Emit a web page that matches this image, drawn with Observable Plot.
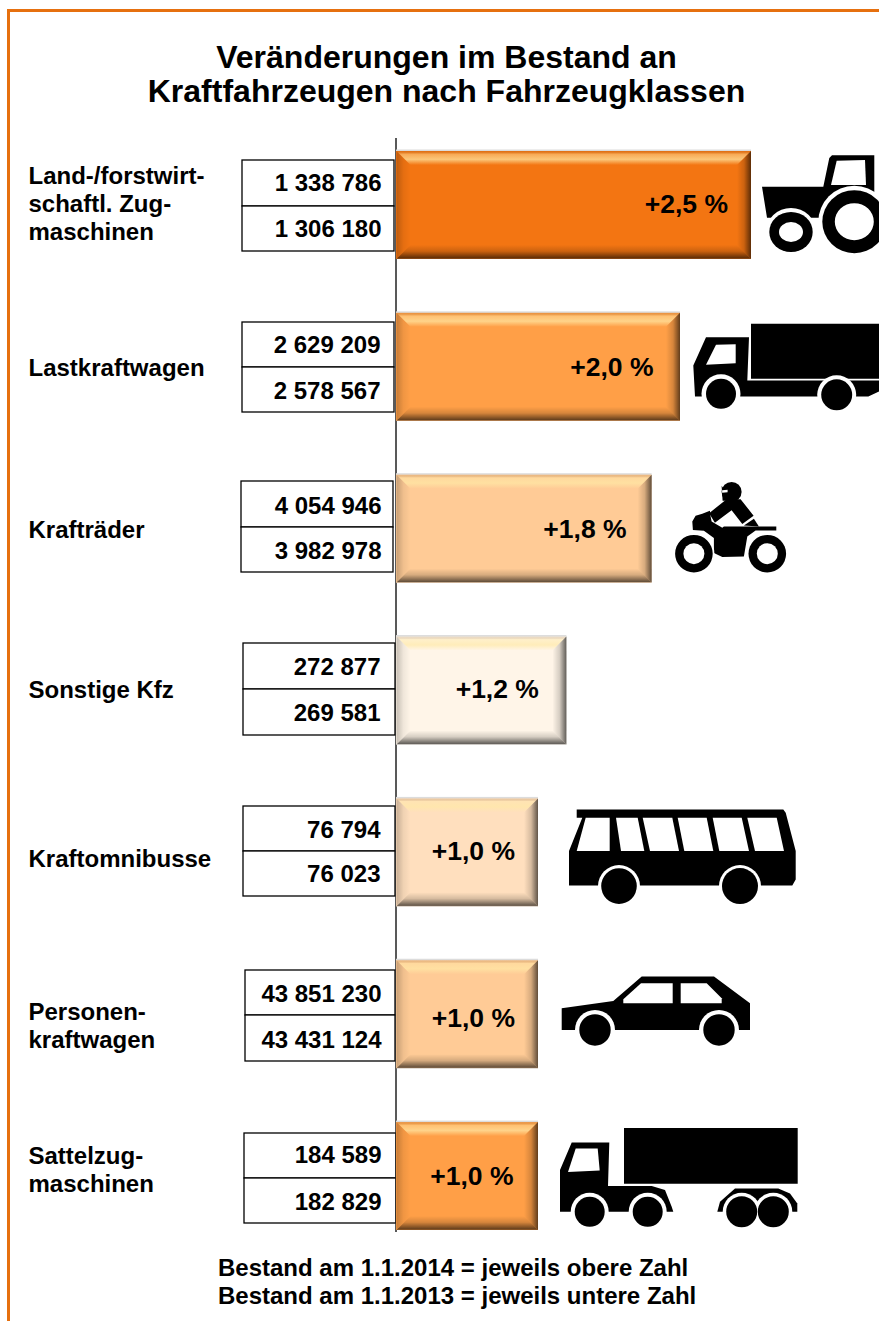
<!DOCTYPE html>
<html lang="de">
<head>
<meta charset="utf-8">
<script src="https://cdn.jsdelivr.net/npm/d3@7"></script>
<script src="https://cdn.jsdelivr.net/npm/@observablehq/plot@0.6"></script>
<style>
  html, body { margin: 0; padding: 0; background: #fff; }
  body { width: 879px; height: 1321px; position: relative; overflow: hidden; font-family: "Liberation Sans", Arial, sans-serif; font-weight: bold; color: #000; }
  #frame { position: absolute; left: 7px; top: 9px; right: 0; bottom: 0; border-top: 3px solid #E6700F; border-left: 3px solid #E6700F; }
  #title { position: absolute; left: 0; width: 893px; top: 40px; text-align: center; font-size: 32px; line-height: 34px; margin: 0; font-weight: bold; }
  #chart { position: absolute; left: 0; top: 135px; }
  #chart svg { display: block; }
  #note { position: absolute; left: 218px; top: 1254px; font-size: 24px; line-height: 28px; white-space: nowrap; }
</style>
</head>
<body>
<div id="frame"></div>
<h1 id="title">Veränderungen im Bestand an<br>Kraftfahrzeugen nach Fahrzeugklassen</h1>
<div id="chart"></div>
<div id="note">Bestand am 1.1.2014 = jeweils obere Zahl<br>Bestand am 1.1.2013 = jeweils untere Zahl</div>
<script>
// ---------- data ----------
const categories = ["Land-/forstwirt-\nschaftl. Zug-\nmaschinen", "Lastkraftwagen", "Krafträder", "Sonstige Kfz", "Kraftomnibusse", "Personen-\nkraftwagen", "Sattelzug-\nmaschinen"];
const stock2014 = [1338786, 2629209, 4054946, 272877, 76794, 43851230, 184589];
const stock2013 = [1306180, 2578567, 3982978, 269581, 76023, 43431124, 182829];
const changePct = [2.5, 2.0, 1.8, 1.2, 1.0, 1.0, 1.0];

// ---------- styles ----------
const barColors = ["#F37512", "#FF9F47", "#FFCB96", "#FFF5E8", "#FFDFBE", "#FFCB96", "#FF9F47"];

// ---------- layout (reference page pixels) ----------
const svgTop = 135, svgH = 1100, pxPerUnit = 142, zeroPx = 396;
const bandRange = [16, 1095], pInner = 1 / 3;
const step = (bandRange[1] - bandRange[0]) / (categories.length - pInner);
const bw = step * (1 - pInner);
const bandTop = i => bandRange[0] + i * step;              // svg px
const toX = px => (px - zeroPx) / pxPerUnit;               // page px -> x value
const tableX   = [[242,394],[242,394],[241,393],[243,395],[243,395],[245,395],[244,396]];
const tableY   = [[160,206,251],[322,367,412],[481,527,572],[643,689,735],[806,851,896],[970,1015,1061],[1133,1178,1223]];
const numY     = [[183,229],[345,391],[506,551],[667,713],[830,874],[994,1040],[1155,1202]];
const numRight = [381,380,381,380,380,381,381];
const catY     = [203,367,529,689,858,1025,1169];
const pctY     = [204,367,529,689,851,1018,1176];
const pctGap   = [23.5,27,25.5,28,23.5,23.5,25];

const locale = d3.formatLocale({decimal: ",", thousands: " ", grouping: [3], currency: ["", ""]});
const fmtN = locale.format(",d"), fmtP = locale.format("+.1f");

const rows = categories.map((cat, i) => ({cat, i, a: stock2014[i], b: stock2013[i], pct: changePct[i], color: barColors[i]}));
const dyOf = (pageY, i) => pageY - svgTop - (bandTop(i) + bw / 2);
const font = {fontFamily: "Liberation Sans, Arial, sans-serif", fontWeight: "bold", fill: "#000"};

// ---------- pictograms (shapes, anchored to the end of their bar) ----------
const circ = (cx, cy, rx, ry = rx) => `M${cx - rx},${cy}a${rx},${ry} 0 1,0 ${2 * rx},0a${rx},${ry} 0 1,0 ${-2 * rx},0Z`;
const poly = pts => "M" + pts.map(p => p.join(",")).join("L") + "Z";
const K = "#000", W = "#fff";
const icons = [
  {row: 0, end: 750, top: 151, parts: [
    [K, poly([[761,186.7],[822.3,186.7],[828.3,158],[831,155.3],[873.3,155.3],[873.3,195],[879,200],[879,217.7],[766,217.7]])],
    [W, poly([[835.7,160.7],[864,160],[865,185],[830,185]])],
    [W, circ(853.3,221.7,36,36)], [K, circ(853.3,221.7,32,31.5)], [W, circ(853.3,221.7,19.5,18.5)],
    [W, circ(790,232,25,24)], [K, circ(790,232,21.7,20)], [W, circ(790,232,12,10)]
  ]},
  {row: 1, end: 680, top: 313, parts: [
    [K, poly([[751,324],[879,324],[879,379],[751,379]])],
    [K, poly([[693.3,365.7],[706,337.3],[749,337.3],[747.3,380.7],[879,380.7],[879,391.7],[868.3,396.7],[695,396.7]])],
    [W, poly([[716,345],[735.7,344.3],[735.7,363.3],[706,365]])],
    [W, circ(721,394,19.5)], [K, circ(721,394,15)],
    [W, circ(836.7,395,19.5)], [K, circ(836.7,395,15.5)]
  ]},
  {row: 2, end: 651, top: 475, parts: [
    [K, poly([[691.7,521.7],[695,516],[701.7,514],[709.3,511],[710,516.7],[711,521.7],[721.7,528],[723.3,526.7],[775.7,526.7],[775.7,530.7],[755,530.7],[746.7,536.7],[743.3,556.7],[721.7,557.3],[713.3,553.3],[713.3,538.3],[703.3,531],[692.3,530.3]])],
    [K, poly([[726,499.5],[740,499.5],[753,516],[741.7,524.3],[731,510.5],[714.3,523],[708.5,513.5]])],
    [K, poly([[743.3,525.7],[753.3,519],[758.3,526.7]])],
    [K, circ(731,492.2,10)], [K, poly([[721,486],[731,501],[722,501]])], [W, poly([[721.5,490.5],[727,490],[727,492.5],[721.5,493]])],
    [W, circ(693.3,554,20.5)], [K, circ(693.3,554,18.8)], [W, circ(693.3,554,10.5)],
    [W, circ(766.7,554,20.5)], [K, circ(766.7,554,18.8)], [W, circ(766.7,554,10.5)]
  ]},
  {row: 4, end: 538, top: 799, parts: [
    [K, poly([[576.7,810],[783.3,810],[785.7,813.3],[795.7,851.7],[795.7,880],[792.3,886],[569,886],[569,851.7],[582.3,818.3],[576.7,818.3]])],
    [W, poly([[585.7,818.3],[609.7,818.3],[609.7,851.7],[576.7,851.7]])],
    [W, poly([[616,818.3],[637.7,818.3],[644.3,851.7],[621,851.7]])],
    [W, poly([[642.7,818.3],[672.3,818.3],[679,851.7],[650,851.7]])],
    [W, poly([[677.7,818.3],[706.7,818.3],[713.3,851.7],[684.3,851.7]])],
    [W, poly([[712.7,818.3],[741.7,818.3],[749,851.7],[719.3,851.7]])],
    [W, poly([[747.3,818.3],[776.7,818.3],[784,851.7],[755,851.7]])],
    [W, circ(619,886.7,21)], [K, circ(619,886.7,17.8)],
    [W, circ(740,886.7,21)], [K, circ(740,886.7,18)]
  ]},
  {row: 5, end: 538, top: 961, parts: [
    [K, poly([[561.7,1009],[613.3,1001.7],[641.7,977.3],[714,977.3],[750,1004],[750,1030.7],[561.7,1030.7]])],
    [W, poly([[623.3,1000],[641,984],[672.7,984],[672.7,1004],[623.3,1004]])],
    [W, poly([[680.7,984],[706.7,984],[721.7,999],[721.7,1004],[680.7,1004]])],
    [W, circ(595,1030.7,20)], [K, circ(595,1030.7,15.7)],
    [W, circ(719,1030.7,20)], [K, circ(719,1030.7,15.7)]
  ]},
  {row: 6, end: 538, top: 1122, parts: [
    [K, poly([[624,1128],[797.7,1128],[797.7,1183.7],[624,1183.7]])],
    [K, poly([[560,1170],[571.7,1142.3],[609.3,1142.3],[608,1186],[651.7,1186],[665,1190],[671.7,1206.7],[673.3,1211.7],[560,1211.7]])],
    [W, poly([[575.7,1148.3],[597.7,1148.3],[599.7,1170.3],[568,1172]])],
    [K, poly([[717.3,1211.7],[720,1201.7],[735,1188.3],[778.3,1188.3],[790,1193.3],[797.3,1203.3],[797.3,1211.7]])],
    [W, circ(589.7,1211.7,19)], [K, circ(589.7,1211.7,15)],
    [W, circ(647.7,1211.7,19)], [K, circ(647.7,1211.7,15)],
    [W, circ(741.7,1211.7,19)], [W, circ(773.3,1211.7,19)],
    [K, circ(741.7,1211.7,15.5)], [K, circ(773.3,1211.7,15.5)]
  ]}
];

const NS = "http://www.w3.org/2000/svg";
const el = (name, attrs = {}) => { const e = document.createElementNS(NS, name); for (const k in attrs) e.setAttribute(k, attrs[k]); return e; };

// gradient overlays used for the bevelled bar edges
const gradients = {
  bevT: ["0,0,0,1", [[0,"#7a4a10",.12],[.22,"#ffe9a6",.45],[.6,"#ffe9a6",.7],[1,"#ffe9a6",0]]],
  bevB: ["0,0,0,1", [[0,"#000",0],[.45,"#000",.16],[.93,"#000",.6],[1,"#000",.35]]],
  bevR: ["0,0,1,0", [[0,"#000",0],[.5,"#000",.16],[1,"#000",.62]]],
  bevL: ["0,0,1,0", [[0,"#000",.22],[.5,"#000",.06],[1,"#000",0]]]
};
const defsMark = () => {
  const defs = el("defs");
  for (const id in gradients) {
    const [c, stops] = gradients[id], [x1, y1, x2, y2] = c.split(",");
    const g = el("linearGradient", {id, x1, y1, x2, y2});
    for (const [o, col, a] of stops) g.appendChild(el("stop", {offset: o, "stop-color": col, "stop-opacity": a}));
    defs.appendChild(g);
  }
  return defs;
};
const bevelMark = (index, {x, y}) => {
  const g = el("g"), b = 14;
  for (const r of rows) {
    const x0 = x(0) + 0.5, x1 = x(r.pct), y0 = y(r.cat), y1 = y0 + y.bandwidth();
    const faces = [
      ["bevT", [[x0,y0],[x1,y0],[x1-b,y0+b],[x0+b,y0+b]]],
      ["bevB", [[x0+b,y1-b],[x1-b,y1-b],[x1,y1],[x0,y1]]],
      ["bevL", [[x0,y0],[x0+b,y0+b],[x0+b,y1-b],[x0,y1]]],
      ["bevR", [[x1-b,y0+b],[x1,y0],[x1,y1],[x1-b,y1-b]]]
    ];
    for (const [id, pts] of faces) g.appendChild(el("path", {d: poly(pts), fill: `url(#${id})`}));
  }
  return g;
};
const iconMark = (index, {x, y}) => {
  const g = el("g");
  for (const ic of icons) {
    const r = rows[ic.row];
    const t = el("g", {transform: `translate(${x(r.pct) - ic.end},${y(r.cat) - ic.top})`});
    for (const [fill, d] of ic.parts) t.appendChild(el("path", {d, fill}));
    g.appendChild(t);
  }
  return g;
};

// ---------- chart ----------
const cellBar = (r, k) => Plot.barX([r], {
  x1: () => toX(tableX[r.i][0]), x2: () => toX(tableX[r.i][1]), y: "cat",
  insetTop: tableY[r.i][k] - svgTop - bandTop(r.i),
  insetBottom: bandTop(r.i) + bw - (tableY[r.i][k + 1] - svgTop),
  fill: "#fff", stroke: "#000", strokeWidth: 1.3
});
const chart = Plot.plot({
  width: 879, height: svgH,
  marginTop: 3, marginBottom: 3, marginLeft: 0, marginRight: 0,
  style: {background: "transparent", overflow: "visible"},
  x: {domain: [toX(0), toX(879)], range: [0, 879], axis: null},
  y: {domain: categories, range: bandRange, paddingInner: pInner, paddingOuter: 0, round: false, axis: null},
  marks: [
    defsMark,
    rows.flatMap(r => [cellBar(r, 0), cellBar(r, 1)]),
    Plot.ruleX([0], {x: () => toX(395.5), stroke: "#222", strokeWidth: 1.5}),
    Plot.barX(rows, {x1: 0, x2: "pct", y: "cat", fill: "#dcdcdc", insetTop: -1.5, insetBottom: 0}),
    Plot.barX(rows, {x1: 0, x2: "pct", y: "cat", fill: "color"}),
    bevelMark,
    rows.map(r => Plot.text([r], {x: 0, y: "cat", frameAnchor: "left", text: "cat", textAnchor: "start",
      dx: -(zeroPx - 28), dy: dyOf(catY[r.i], r.i), fontSize: 24, lineHeight: 28 / 24, lineAnchor: "middle", ...font})),
    rows.map(r => Plot.text([r], {x: () => toX(numRight[r.i]), y: "cat", text: d => fmtN(d.a), textAnchor: "end",
      dy: dyOf(numY[r.i][0], r.i), fontSize: 24, lineAnchor: "middle", ...font})),
    rows.map(r => Plot.text([r], {x: () => toX(numRight[r.i]), y: "cat", text: d => fmtN(d.b), textAnchor: "end",
      dy: dyOf(numY[r.i][1], r.i), fontSize: 24, lineAnchor: "middle", ...font})),
    rows.map(r => Plot.text([r], {x: "pct", y: "cat", text: d => fmtP(d.pct) + " %", textAnchor: "end",
      dx: -pctGap[r.i], dy: dyOf(pctY[r.i], r.i), fontSize: 26.5, lineAnchor: "middle", ...font})),
    iconMark
  ]
});
document.getElementById("chart").appendChild(chart);
</script>
</body>
</html>
